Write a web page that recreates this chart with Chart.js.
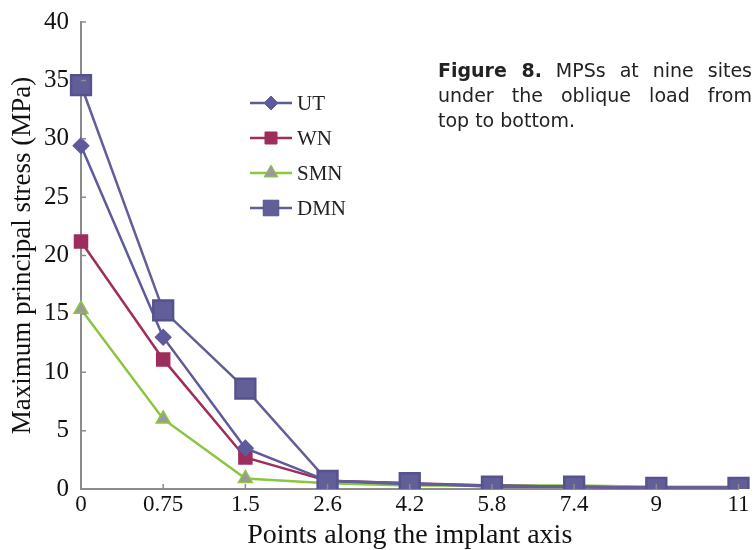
<!DOCTYPE html>
<html>
<head>
<meta charset="utf-8">
<script src="https://cdn.jsdelivr.net/npm/chart.js@4.4.1/dist/chart.umd.min.js"></script>
<style>
  html, body { margin: 0; padding: 0; background: #fff; }
  #wrap { position: relative; width: 755px; height: 550px; }
  #caption {
    position: absolute; left: 438px; top: 58px; width: 314px;
    font-family: "DejaVu Sans", Verdana, sans-serif; font-size: 19px;
    line-height: 25px; color: #222;
  }
  #caption div { text-align: justify; text-align-last: justify; white-space: nowrap; }
  #caption div.last { text-align-last: left; }
</style>
</head>
<body>
<div id="wrap">
  <canvas id="lineCanvas" width="755" height="550"></canvas>
  <div id="caption">
    <div><b>Figure 8.</b> MPSs at nine sites</div>
    <div>under the oblique load from</div>
    <div class="last">top to bottom.</div>
  </div>
</div>
<script>
// points along the implant axis
var sites = ["0", "0.75", "1.5", "2.6", "4.2", "5.8", "7.4", "9", "11"];
// maximum principal stress (MPa)
var utValues  = [29.4, 13.0, 3.5, 0.7, 0.4, 0.3, 0.2, 0.1, 0.1];
var wnValues  = [21.2, 11.1, 2.7, 0.7, 0.5, 0.3, 0.2, 0.1, 0.1];
var smnValues = [15.4, 6.0, 0.9, 0.5, 0.3, 0.3, 0.3, 0.2, 0.2];
var dmnValues = [34.6, 15.3, 8.6, 0.7, 0.5, 0.2, 0.2, 0.1, 0.1];
var yTicks = [0, 5, 10, 15, 20, 25, 30, 35, 40];

var serif = "'Liberation Serif', 'Times New Roman', serif";
var axisColor = "#8c8c8c";

// small tick marks pointing into the plot
var innerTicks = {
    id: 'innerTicks',
    afterDraw: function(chart) {
        var ctx = chart.ctx;
        var x = chart.scales.x, y = chart.scales.y;
        ctx.save();
        ctx.strokeStyle = axisColor;
        ctx.lineWidth = 1.5;
        ctx.beginPath();
        yTicks.forEach(function(v) {
            var py = y.getPixelForValue(v);
            ctx.moveTo(x.left, py);
            ctx.lineTo(x.left + 5, py);
        });
        sites.forEach(function(s, i) {
            var px = x.getPixelForValue(i);
            ctx.moveTo(px, y.bottom);
            ctx.lineTo(px, y.bottom - 5);
        });
        ctx.stroke();
        ctx.restore();
    }
};

// legend drawn inside the plot area
var insideLegend = {
    id: 'insideLegend',
    afterDraw: function(chart) {
        var ctx = chart.ctx;
        var x0 = 250, y0 = 103, gap = 35, len = 42;
        ctx.save();
        chart.data.datasets.forEach(function(ds, i) {
            var yy = y0 + i * gap;
            ctx.strokeStyle = ds.borderColor;
            ctx.lineWidth = 2.5;
            ctx.beginPath();
            ctx.moveTo(x0, yy);
            ctx.lineTo(x0 + len, yy);
            ctx.stroke();
            ctx.fillStyle = ds.pointBackgroundColor;
            ctx.strokeStyle = ds.pointBorderColor;
            ctx.lineWidth = 1;
            Chart.helpers.drawPoint(ctx, {
                pointStyle: ds.pointStyle,
                radius: ds.legendRadius,
                borderWidth: 1
            }, x0 + len / 2, yy);
            ctx.fillStyle = "#222";
            ctx.font = "21px " + serif;
            ctx.textBaseline = "middle";
            ctx.fillText(ds.label, x0 + len + 5, yy + 1);
        });
        ctx.restore();
    }
};

var ctx = document.getElementById("lineCanvas").getContext("2d");

new Chart(ctx, {
    type: 'line',
    data: {
        labels: sites,
        datasets: [
            {
                label: "UT",
                data: utValues,
                borderColor: "#5e5a9c",
                borderWidth: 2.5,
                pointStyle: 'rectRot',
                pointRadius: 7,
                legendRadius: 7,
                pointBackgroundColor: "#5e5a9c",
                pointBorderColor: "#5e5a9c",
                order: 2
            },
            {
                label: "WN",
                data: wnValues,
                borderColor: "#9e2d5c",
                borderWidth: 2.5,
                pointStyle: 'rect',
                pointRadius: 8.5,
                legendRadius: 8.5,
                pointBackgroundColor: "#9e2d5c",
                pointBorderColor: "#9e2d5c",
                order: 3
            },
            {
                label: "SMN",
                data: smnValues,
                borderColor: "#8cc63f",
                borderWidth: 2.5,
                pointStyle: 'triangle',
                pointRadius: 8,
                legendRadius: 8,
                pointBackgroundColor: "#9a9a9a",
                pointBorderColor: "#8cc63f",
                pointBorderWidth: 1.5,
                order: 4
            },
            {
                label: "DMN",
                data: dmnValues,
                borderColor: "#625e98",
                borderWidth: 2.5,
                pointStyle: 'rect',
                pointRadius: 14,
                legendRadius: 11,
                pointBackgroundColor: "#625e98",
                pointBorderColor: "#565290",
                order: 1
            }
        ]
    },
    options: {
        responsive: false,
        animation: false,
        layout: { padding: { top: 22, right: 10, left: 0, bottom: 0 } },
        plugins: {
            legend: { display: false },
            tooltip: { enabled: false }
        },
        scales: {
            x: {
                offset: false,
                grid: { display: false, drawTicks: false },
                border: { color: axisColor, width: 2 },
                ticks: {
                    color: "#111",
                    font: { family: serif, size: 23 },
                    padding: 2,
                    maxRotation: 0,
                    autoSkip: false
                },
                title: {
                    display: true,
                    text: "Points along the implant axis",
                    color: "#111",
                    font: { family: serif, size: 28, lineHeight: 1 },
                    padding: { top: -2, bottom: 0 }
                },
                afterFit: function(scale) { scale.height = 61; }
            },
            y: {
                min: 0,
                max: 40,
                grid: { display: false, drawTicks: false },
                border: { color: axisColor, width: 2 },
                ticks: {
                    stepSize: 5,
                    color: "#111",
                    font: { family: serif, size: 25, lineHeight: 0.8 },
                    padding: 12
                },
                title: {
                    display: true,
                    text: "Maximum principal stress (MPa)",
                    color: "#111",
                    font: { family: serif, size: 27, lineHeight: 1.2 },
                    padding: { top: 7, bottom: 0 }
                },
                afterFit: function(scale) { scale.width = 81; }
            }
        }
    },
    plugins: [innerTicks, insideLegend]
});
</script>
</body>
</html>
